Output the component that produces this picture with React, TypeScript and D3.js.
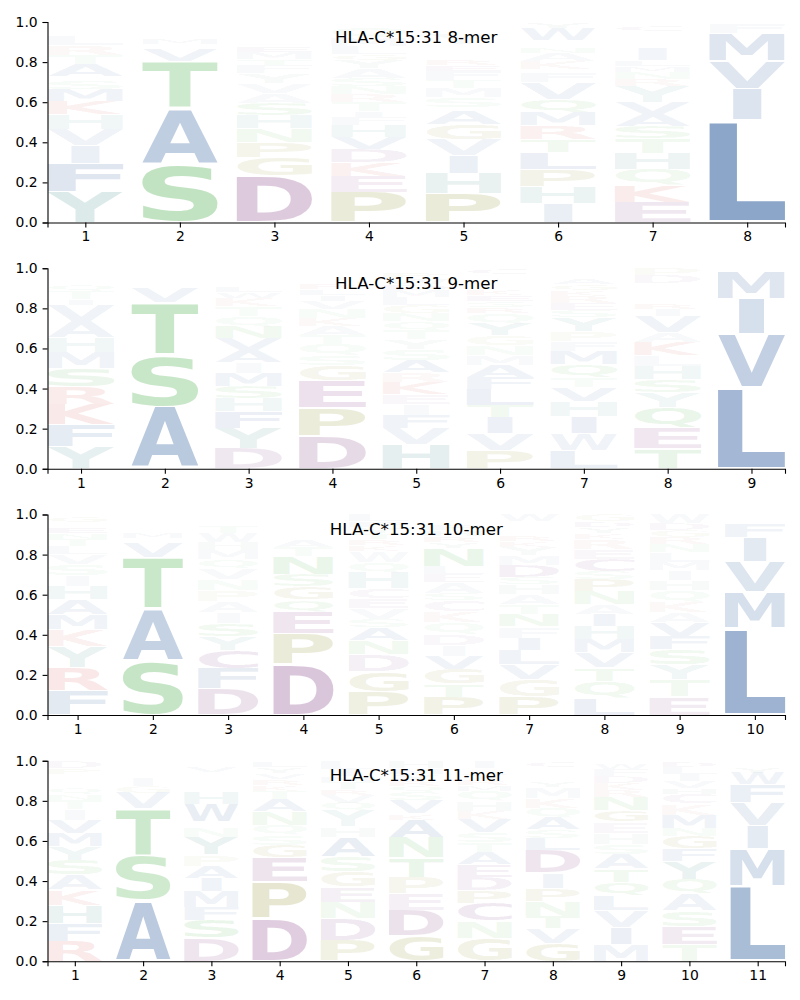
import * as d3 from "d3";
import { useEffect, useRef } from "react";

type Col = [string, number][];

const allele = "HLA-C*15:31";
const yTicks = [0, 0.2, 0.4, 0.6, 0.8, 1.0];

// letter stacks per position, bottom to top, [amino acid, probability]
const mer8: Col[] = [
  [["Y", 0.155], ["F", 0.14], ["I", 0.09], ["V", 0.08], ["H", 0.075], ["K", 0.065], ["M", 0.06], ["S", 0.045], ["G", 0.02], ["A", 0.06], ["T", 0.045], ["R", 0.05], ["L", 0.045], ["N", 0.02], ["E", 0.02], ["Q", 0.015], ["W", 0.015]],
  [["S", 0.29], ["A", 0.28], ["T", 0.235], ["V", 0.06], ["I", 0.025], ["M", 0.03], ["Y", 0.02], ["N", 0.02], ["G", 0.01], ["Q", 0.01], ["R", 0.02]],
  [["D", 0.235], ["G", 0.09], ["P", 0.075], ["N", 0.07], ["H", 0.065], ["S", 0.06], ["A", 0.05], ["V", 0.05], ["Y", 0.05], ["F", 0.04], ["T", 0.03], ["M", 0.035], ["E", 0.03], ["K", 0.025], ["Q", 0.025], ["L", 0.02], ["R", 0.02], ["W", 0.015], ["I", 0.015]],
  [["P", 0.15], ["E", 0.08], ["K", 0.07], ["D", 0.065], ["V", 0.06], ["H", 0.06], ["F", 0.04], ["I", 0.03], ["T", 0.045], ["R", 0.04], ["N", 0.04], ["S", 0.04], ["A", 0.05], ["Y", 0.04], ["G", 0.03], ["L", 0.04], ["M", 0.04], ["Q", 0.05], ["W", 0.02], ["C", 0.01]],
  [["P", 0.145], ["H", 0.1], ["I", 0.09], ["V", 0.08], ["G", 0.075], ["A", 0.07], ["L", 0.015], ["S", 0.05], ["M", 0.045], ["T", 0.04], ["F", 0.045], ["E", 0.03], ["R", 0.03], ["K", 0.025], ["N", 0.025], ["Q", 0.025], ["Y", 0.055], ["W", 0.02], ["D", 0.015], ["C", 0.02]],
  [["I", 0.095], ["H", 0.085], ["P", 0.085], ["L", 0.085], ["T", 0.065], ["R", 0.07], ["M", 0.065], ["Q", 0.065], ["V", 0.085], ["F", 0.05], ["S", 0.015], ["K", 0.04], ["A", 0.04], ["N", 0.03], ["E", 0.02], ["G", 0.015], ["W", 0.06], ["Y", 0.03]],
  [["E", 0.1], ["K", 0.085], ["Q", 0.08], ["H", 0.08], ["T", 0.075], ["S", 0.06], ["A", 0.06], ["V", 0.06], ["Y", 0.08], ["R", 0.035], ["N", 0.035], ["M", 0.03], ["L", 0.03], ["I", 0.06], ["D", 0.02], ["G", 0.02], ["P", 0.02], ["F", 0.025], ["C", 0.03], ["W", 0.015]],
  [["L", 0.51], ["I", 0.155], ["V", 0.14], ["M", 0.14], ["F", 0.045], ["Y", 0.01]],
];

const mer9: Col[] = [
  [["Y", 0.11], ["F", 0.11], ["K", 0.1], ["R", 0.09], ["S", 0.09], ["M", 0.08], ["H", 0.075], ["A", 0.08], ["V", 0.08], ["I", 0.03], ["T", 0.04], ["Q", 0.03], ["N", 0.025], ["L", 0.02], ["E", 0.02], ["G", 0.02]],
  [["A", 0.31], ["S", 0.26], ["T", 0.26], ["V", 0.075], ["I", 0.02], ["M", 0.025], ["Q", 0.02], ["N", 0.015], ["Y", 0.015]],
  [["D", 0.1], ["Y", 0.1], ["F", 0.085], ["H", 0.065], ["S", 0.06], ["M", 0.065], ["I", 0.055], ["A", 0.06], ["V", 0.06], ["N", 0.06], ["Q", 0.05], ["T", 0.05], ["K", 0.04], ["W", 0.03], ["L", 0.03], ["E", 0.025], ["R", 0.025], ["G", 0.02], ["C", 0.02]],
  [["D", 0.165], ["P", 0.14], ["E", 0.135], ["G", 0.075], ["S", 0.05], ["Q", 0.055], ["T", 0.045], ["A", 0.045], ["K", 0.04], ["N", 0.045], ["V", 0.04], ["I", 0.03], ["L", 0.03], ["R", 0.03], ["M", 0.025], ["Y", 0.025], ["F", 0.025]],
  [["H", 0.12], ["V", 0.08], ["F", 0.065], ["I", 0.055], ["E", 0.05], ["K", 0.06], ["R", 0.05], ["A", 0.06], ["S", 0.055], ["Y", 0.05], ["T", 0.045], ["Q", 0.045], ["N", 0.04], ["G", 0.04], ["L", 0.04], ["M", 0.035], ["D", 0.03], ["W", 0.03], ["P", 0.03], ["C", 0.02]],
  [["P", 0.09], ["V", 0.085], ["I", 0.08], ["T", 0.06], ["L", 0.08], ["F", 0.06], ["A", 0.06], ["M", 0.05], ["N", 0.05], ["G", 0.05], ["Y", 0.06], ["Q", 0.05], ["R", 0.03], ["S", 0.03], ["E", 0.03], ["K", 0.03], ["H", 0.025], ["D", 0.025], ["W", 0.025], ["C", 0.03]],
  [["L", 0.09], ["W", 0.085], ["I", 0.085], ["H", 0.075], ["V", 0.07], ["T", 0.05], ["Q", 0.065], ["M", 0.065], ["F", 0.05], ["P", 0.05], ["Y", 0.07], ["S", 0.035], ["E", 0.035], ["R", 0.035], ["K", 0.03], ["G", 0.03], ["A", 0.03], ["D", 0.02], ["C", 0.02], ["N", 0.01]],
  [["T", 0.1], ["E", 0.105], ["Q", 0.1], ["Y", 0.075], ["S", 0.065], ["H", 0.065], ["L", 0.055], ["K", 0.065], ["A", 0.05], ["V", 0.08], ["I", 0.035], ["R", 0.03], ["N", 0.025], ["G", 0.025], ["F", 0.025], ["M", 0.025], ["D", 0.04], ["P", 0.035]],
  [["L", 0.405], ["V", 0.265], ["I", 0.18], ["M", 0.14], ["F", 0.01]],
];

const mer10: Col[] = [
  [["F", 0.12], ["R", 0.115], ["Y", 0.105], ["K", 0.085], ["M", 0.075], ["A", 0.075], ["H", 0.065], ["I", 0.055], ["S", 0.055], ["V", 0.05], ["L", 0.04], ["T", 0.035], ["N", 0.03], ["E", 0.03], ["Q", 0.025], ["G", 0.03], ["W", 0.01]],
  [["S", 0.27], ["A", 0.26], ["T", 0.255], ["V", 0.075], ["I", 0.02], ["M", 0.03], ["Q", 0.02], ["Y", 0.02], ["N", 0.015], ["G", 0.015], ["R", 0.02]],
  [["D", 0.13], ["F", 0.1], ["C", 0.09], ["Y", 0.07], ["S", 0.065], ["I", 0.055], ["A", 0.055], ["P", 0.055], ["N", 0.055], ["V", 0.055], ["Q", 0.045], ["M", 0.045], ["H", 0.04], ["W", 0.045], ["T", 0.035], ["E", 0.02], ["R", 0.02], ["G", 0.02]],
  [["D", 0.255], ["P", 0.15], ["E", 0.11], ["Q", 0.06], ["G", 0.065], ["S", 0.06], ["N", 0.09], ["T", 0.045], ["A", 0.035], ["K", 0.025], ["R", 0.02], ["V", 0.02], ["Y", 0.025], ["I", 0.02], ["L", 0.02]],
  [["P", 0.115], ["G", 0.1], ["D", 0.085], ["N", 0.07], ["A", 0.065], ["S", 0.04], ["V", 0.055], ["E", 0.05], ["C", 0.05], ["H", 0.08], ["Q", 0.05], ["W", 0.055], ["K", 0.03], ["R", 0.03], ["T", 0.03], ["Y", 0.03], ["F", 0.03], ["L", 0.035]],
  [["P", 0.09], ["T", 0.065], ["G", 0.075], ["V", 0.065], ["I", 0.055], ["D", 0.055], ["Q", 0.055], ["K", 0.055], ["C", 0.055], ["S", 0.035], ["A", 0.055], ["E", 0.04], ["L", 0.04], ["N", 0.09], ["Y", 0.03], ["R", 0.03], ["H", 0.03], ["F", 0.03], ["W", 0.025], ["M", 0.025]],
  [["P", 0.09], ["G", 0.085], ["V", 0.075], ["L", 0.075], ["I", 0.06], ["F", 0.055], ["N", 0.06], ["T", 0.05], ["A", 0.05], ["H", 0.05], ["S", 0.035], ["D", 0.06], ["M", 0.05], ["Y", 0.04], ["K", 0.03], ["R", 0.03], ["E", 0.025], ["Q", 0.025], ["C", 0.02], ["W", 0.035]],
  [["L", 0.085], ["Q", 0.085], ["T", 0.065], ["V", 0.075], ["M", 0.065], ["H", 0.065], ["I", 0.06], ["A", 0.05], ["N", 0.065], ["P", 0.06], ["S", 0.04], ["C", 0.06], ["E", 0.05], ["R", 0.05], ["K", 0.03], ["Y", 0.03], ["D", 0.03], ["G", 0.035]],
  [["E", 0.09], ["T", 0.085], ["Y", 0.075], ["S", 0.075], ["F", 0.065], ["V", 0.07], ["A", 0.05], ["K", 0.055], ["Q", 0.055], ["H", 0.05], ["I", 0.05], ["M", 0.04], ["L", 0.05], ["N", 0.04], ["R", 0.035], ["G", 0.035], ["D", 0.035], ["W", 0.045]],
  [["L", 0.435], ["M", 0.18], ["V", 0.15], ["I", 0.12], ["F", 0.07], ["Y", 0.02], ["W", 0.015], ["A", 0.01]],
];

const mer11: Col[] = [
  [["R", 0.1], ["F", 0.09], ["H", 0.09], ["K", 0.075], ["A", 0.075], ["S", 0.075], ["Y", 0.07], ["M", 0.065], ["V", 0.065], ["I", 0.055], ["T", 0.045], ["N", 0.03], ["Q", 0.03], ["L", 0.025], ["G", 0.025], ["E", 0.02], ["P", 0.03], ["D", 0.035]],
  [["A", 0.3], ["S", 0.225], ["T", 0.235], ["V", 0.08], ["G", 0.035], ["I", 0.04], ["M", 0.02], ["N", 0.02], ["Q", 0.02], ["Y", 0.025]],
  [["D", 0.115], ["S", 0.09], ["F", 0.065], ["M", 0.08], ["I", 0.065], ["A", 0.06], ["P", 0.055], ["Y", 0.09], ["N", 0.05], ["C", 0.025], ["W", 0.09], ["H", 0.06], ["K", 0.025], ["R", 0.025], ["E", 0.025], ["T", 0.025], ["V", 0.03], ["Q", 0.025]],
  [["D", 0.215], ["P", 0.18], ["E", 0.12], ["G", 0.065], ["S", 0.05], ["Q", 0.05], ["N", 0.065], ["A", 0.065], ["T", 0.04], ["K", 0.03], ["R", 0.03], ["V", 0.03], ["Y", 0.03], ["L", 0.03]],
  [["P", 0.105], ["D", 0.11], ["N", 0.08], ["E", 0.075], ["G", 0.075], ["S", 0.075], ["A", 0.1], ["H", 0.05], ["Y", 0.08], ["Q", 0.04], ["V", 0.04], ["R", 0.03], ["T", 0.035], ["M", 0.03], ["I", 0.035], ["L", 0.04]],
  [["G", 0.125], ["D", 0.13], ["E", 0.08], ["P", 0.08], ["T", 0.1], ["N", 0.1], ["A", 0.09], ["K", 0.03], ["V", 0.07], ["S", 0.04], ["Q", 0.03], ["R", 0.03], ["Y", 0.03], ["M", 0.03], ["H", 0.035]],
  [["G", 0.115], ["N", 0.085], ["C", 0.09], ["P", 0.065], ["D", 0.065], ["E", 0.06], ["A", 0.065], ["T", 0.05], ["S", 0.05], ["V", 0.065], ["K", 0.04], ["H", 0.05], ["Q", 0.05], ["M", 0.03], ["R", 0.03], ["Y", 0.03], ["L", 0.025], ["I", 0.035]],
  [["G", 0.09], ["V", 0.075], ["T", 0.06], ["N", 0.075], ["P", 0.065], ["I", 0.075], ["D", 0.115], ["L", 0.06], ["S", 0.04], ["A", 0.06], ["Q", 0.05], ["K", 0.05], ["M", 0.055], ["Y", 0.03], ["H", 0.025], ["F", 0.025], ["R", 0.02], ["C", 0.03]],
  [["M", 0.085], ["I", 0.085], ["V", 0.085], ["L", 0.075], ["Q", 0.065], ["T", 0.065], ["A", 0.075], ["S", 0.05], ["H", 0.055], ["E", 0.055], ["G", 0.06], ["N", 0.065], ["R", 0.035], ["K", 0.035], ["D", 0.035], ["F", 0.035], ["W", 0.03], ["P", 0.01]],
  [["T", 0.085], ["E", 0.09], ["S", 0.075], ["A", 0.085], ["Q", 0.075], ["Y", 0.09], ["F", 0.06], ["G", 0.065], ["N", 0.04], ["M", 0.065], ["K", 0.055], ["C", 0.05], ["H", 0.03], ["V", 0.035], ["I", 0.035], ["L", 0.035], ["D", 0.03]],
  [["L", 0.375], ["M", 0.185], ["I", 0.115], ["V", 0.115], ["F", 0.09], ["W", 0.06], ["Y", 0.03], ["A", 0.02], ["T", 0.01]],
];

const panels = [
  { label: "8-mer", data: mer8 },
  { label: "9-mer", data: mer9 },
  { label: "10-mer", data: mer10 },
  { label: "11-mer", data: mer11 },
];

const blue = "rgb(30,80,150)";
const green = "rgb(44,160,44)";
const purple = "rgb(110,30,110)";
const teal = "rgb(40,120,120)";
const red = "rgb(210,40,40)";
const olive = "rgb(120,120,0)";

const aaColor: Record<string, string> = {
  A: blue, V: blue, L: blue, I: blue, M: blue, F: blue, W: blue,
  S: green, T: green, N: green, Q: green,
  D: purple, E: purple, C: purple,
  Y: teal, H: teal,
  K: red, R: red,
  P: olive, G: olive,
};

const FONT = "DejaVu Sans";
const LEFT = 47.5;
const RIGHT = 785;
const PANEL_TOP = 22;
const PANEL_STEP = 246.25;
const PANEL_H = 200.5;
const COL_W = 0.8;
const VPAD = 0.055;
const I_RATIO = 0.375; // narrow glyphs are not stretched to full width

let ctx: CanvasRenderingContext2D | null = null;
const boxes: Record<string, { x0: number; y0: number; w: number; h: number }> = {};

function glyphBox(ch: string) {
  if (boxes[ch]) return boxes[ch];
  if (!ctx) {
    ctx = document.createElement("canvas").getContext("2d");
    ctx!.font = `bold 100px '${FONT}'`;
  }
  const m = ctx!.measureText(ch);
  const b = {
    x0: -m.actualBoundingBoxLeft,
    y0: -m.actualBoundingBoxAscent,
    w: m.actualBoundingBoxLeft + m.actualBoundingBoxRight,
    h: m.actualBoundingBoxAscent + m.actualBoundingBoxDescent,
  };
  boxes[ch] = b;
  return b;
}

const Logo = ({ data, label, top }: { data: Col[]; label: string; top: number }) => {
  const axisRef = useRef<SVGGElement>(null);
  const n = data.length;
  const x = d3.scaleLinear().domain([1 - COL_W / 2, n + COL_W / 2]).range([LEFT, RIGHT]);
  const y = d3.scaleLinear().domain([0, 1]).range([top + PANEL_H, top]);

  useEffect(() => {
    const g = d3.select(axisRef.current);
    g.selectAll("*").remove();
    const ax = g
      .append("g")
      .attr("transform", `translate(0,${top + PANEL_H})`)
      .call(
        d3
          .axisBottom(x)
          .tickValues(d3.range(1, n + 1))
          .tickFormat(d3.format("d"))
          .tickSizeOuter(0)
          .tickSize(4.9)
          .tickPadding(4.2)
      );
    const ay = g
      .append("g")
      .attr("transform", `translate(${LEFT},0)`)
      .call(
        d3
          .axisLeft(y)
          .tickValues(yTicks)
          .tickFormat(d3.format(".1f"))
          .tickSizeOuter(0)
          .tickSize(4.9)
          .tickPadding(4.9)
      );
    [ax, ay].forEach((a) => {
      a.attr("font-family", FONT).attr("font-size", 13.9);
      a.selectAll("path, line").attr("stroke-width", 1.1);
    });
  }, [data, top]);

  const refW = glyphBox("I").w / I_RATIO;
  const fullW = x(1 + COL_W / 2) - x(1 - COL_W / 2);

  const letters = data.flatMap((col, i) => {
    const total = d3.sum(col, (d) => d[1]);
    let acc = 0;
    return col.map(([ch, v], j) => {
      const h = v / total;
      const lo = acc + (h * VPAD) / 2;
      const hi = acc + h - (h * VPAD) / 2;
      acc += h;
      const b = glyphBox(ch);
      const w = fullW * Math.min(1, b.w / refW);
      const x0 = x(i + 1) - w / 2;
      const yTop = y(hi);
      const yBot = y(lo);
      const sx = w / b.w;
      const sy = (yBot - yTop) / b.h;
      const tx = x0 - b.x0 * sx;
      const ty = yTop - b.y0 * sy;
      return (
        <text
          key={`${i}-${j}`}
          transform={`translate(${tx},${ty}) scale(${sx},${sy})`}
          fontFamily={FONT}
          fontWeight="bold"
          fontSize={100}
          fill={aaColor[ch]}
          fillOpacity={Math.min(1, h)}
        >
          {ch}
        </text>
      );
    });
  });

  return (
    <g>
      {letters}
      <text
        x={(LEFT + RIGHT) / 2}
        y={top + 20.5}
        textAnchor="middle"
        fontFamily={FONT}
        fontSize={16.67}
      >
        {`${allele} ${label}`}
      </text>
      <g ref={axisRef} />
    </g>
  );
};

export default function App() {
  return (
    <svg
      width={800}
      height={1000}
      style={{ position: "absolute", left: 0, top: 0, background: "#fff" }}
    >
      {panels.map((p, k) => (
        <Logo key={p.label} data={p.data} label={p.label} top={PANEL_TOP + k * PANEL_STEP} />
      ))}
    </svg>
  );
}
